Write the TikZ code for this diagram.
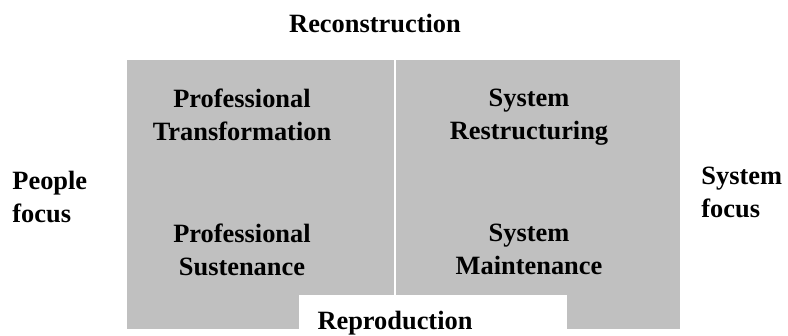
\documentclass[tikz,border=0pt]{standalone}
\usepackage{fontspec}
\setmainfont{Liberation Serif}
\usepackage{tikz}
\usetikzlibrary{positioning}
\definecolor{quadgray}{RGB}{192,192,192}
\tikzset{lbl/.style={font=\fontsize{13.2}{16.5}\selectfont\bfseries,align=center,inner sep=0pt,anchor=north}}
\tikzset{side/.style={lbl,align=left,anchor=north west}}

\begin{document}
\begin{tikzpicture}[x=0.5pt,y=-0.5pt]
            \useasboundingbox (0,0) rectangle (788,336);
            % the four quadrants
            \fill[quadgray] (127,60) rectangle (680,329);
            \coordinate (divtop) at (395,60);
            \coordinate (divbot) at (395,295);
            \draw[white,line width=0.8pt] (divtop) -- (divbot);
            \fill[white] (299,295) rectangle (567,336);
            \node[lbl] (recon)     at (375,14)  {Reconstruction};
            \node[lbl] (repro)     at (395,311) {Reproduction};
            \node[lbl] (proftrans) at (242,89)  {Professional\\Transformation};
            \node[lbl] (sysrestr)  at (529,89)  {System\\Restructuring};
            \node[lbl] (profsust)  at (242,224) {Professional\\Sustenance};
            \node[lbl] (sysmaint)  at (529,224) {System\\Maintenance};
            \node[side] (people)   at (12,171)  {People\\focus};
            \node[side] (system)   at (701,167) {System\\focus};
        \end{tikzpicture}
\end{document}
